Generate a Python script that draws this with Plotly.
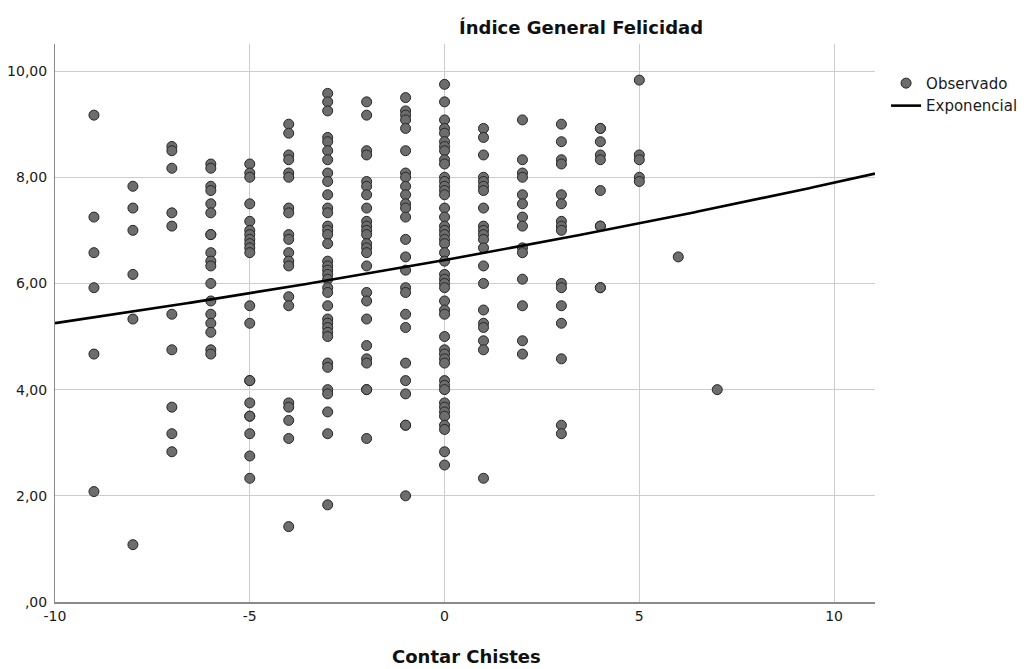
import numpy as np
import plotly.graph_objects as go

# Observed "Índice General Felicidad" values grouped by "Contar Chistes" score
chistes_levels = [-9, -8, -7, -6, -5, -4, -3, -2, -1, 0, 1, 2, 3, 4, 5, 6, 7]

felicidad_m9 = [9.17, 7.25, 6.58, 5.92, 4.67, 2.08]
felicidad_m8 = [7.83, 7.42, 7.00, 6.17, 5.33, 1.08]
felicidad_m7 = [8.58, 8.50, 8.17, 7.33, 7.08, 5.42, 4.75, 3.67, 3.17, 2.83]
felicidad_m6 = [8.25, 8.17, 7.83, 7.75, 7.50, 7.33, 6.92, 6.92, 6.58, 6.42, 6.33,
                6.00, 5.67, 5.42, 5.25, 5.08, 4.75, 4.67]
felicidad_m5 = [8.25, 8.08, 8.00, 7.50, 7.17, 7.00, 6.92, 6.83, 6.75, 6.67, 6.58,
                5.58, 5.25, 4.17, 4.17, 3.75, 3.50, 3.50, 3.17, 2.75, 2.33]
felicidad_m4 = [9.00, 8.83, 8.42, 8.33, 8.08, 8.00, 7.42, 7.33, 6.92, 6.83, 6.58,
                6.42, 6.33, 5.75, 5.58, 3.75, 3.67, 3.42, 3.08, 1.42]
felicidad_m3 = [9.58, 9.42, 9.25, 8.75, 8.67, 8.50, 8.33, 8.08, 7.92, 7.67, 7.42,
                7.33, 7.08, 7.00, 6.92, 6.75, 6.42, 6.33, 6.25, 6.17, 6.08, 5.92,
                5.83, 5.58, 5.33, 5.25, 5.17, 5.08, 5.00, 4.50, 4.42, 4.00, 3.92,
                3.58, 3.17, 1.83]
felicidad_m2 = [9.42, 9.17, 8.50, 8.42, 7.92, 7.83, 7.67, 7.42, 7.17, 7.08, 7.00,
                6.92, 6.75, 6.67, 6.58, 6.33, 5.83, 5.67, 5.33, 4.83, 4.58, 4.50,
                4.00, 4.00, 3.08]
felicidad_m1 = [9.50, 9.25, 9.17, 9.08, 8.92, 8.50, 8.08, 8.00, 7.83, 7.67, 7.50,
                7.42, 7.25, 6.83, 6.50, 6.25, 5.92, 5.83, 5.42, 5.17, 4.50, 4.17,
                3.92, 3.33, 3.33, 2.00]
felicidad_0 = [9.75, 9.42, 9.08, 8.92, 8.83, 8.67, 8.58, 8.50, 8.33, 8.25, 8.00,
               7.92, 7.83, 7.75, 7.67, 7.42, 7.25, 7.08, 7.00, 6.92, 6.83, 6.75,
               6.58, 6.42, 6.17, 6.08, 6.00, 5.92, 5.67, 5.50, 5.42, 5.00, 4.75,
               4.67, 4.58, 4.50, 4.17, 4.08, 4.00, 3.75, 3.67, 3.58, 3.50, 3.33,
               3.25, 2.83, 2.58]
felicidad_p1 = [8.92, 8.75, 8.42, 8.00, 7.92, 7.83, 7.75, 7.42, 7.08, 7.00, 6.92,
                6.83, 6.67, 6.33, 6.00, 5.50, 5.25, 5.17, 4.92, 4.75, 2.33]
felicidad_p2 = [9.08, 8.33, 8.08, 8.00, 7.67, 7.50, 7.25, 7.08, 6.67, 6.58, 6.08,
                5.58, 4.92, 4.67]
felicidad_p3 = [9.00, 8.67, 8.33, 8.25, 7.67, 7.50, 7.17, 7.08, 7.00, 6.00, 5.92,
                5.58, 5.25, 4.58, 3.33, 3.17]
felicidad_p4 = [8.92, 8.92, 8.67, 8.42, 8.33, 7.75, 7.08, 7.08, 5.92, 5.92]
felicidad_p5 = [9.83, 8.42, 8.33, 8.00, 7.92]
felicidad_p6 = [6.50]
felicidad_p7 = [4.00]

felicidad_groups = [felicidad_m9, felicidad_m8, felicidad_m7, felicidad_m6,
                    felicidad_m5, felicidad_m4, felicidad_m3, felicidad_m2,
                    felicidad_m1, felicidad_0, felicidad_p1, felicidad_p2,
                    felicidad_p3, felicidad_p4, felicidad_p5, felicidad_p6,
                    felicidad_p7]

# Exponential model  y = b0 * exp(b1 * x)
fit_b0 = 6.44
fit_b1 = 0.0204

# Axis ticks
x_ticks = [-10, -5, 0, 5, 10]
y_ticks = [0, 2, 4, 6, 8, 10]
y_ticktext = [",00", "2,00", "4,00", "6,00", "8,00", "10,00"]

X_RANGE = [-10, 11.05]
Y_RANGE = [0, 10.51]

obs_x = [lvl for lvl, grp in zip(chistes_levels, felicidad_groups) for _ in grp]
obs_y = [v for grp in felicidad_groups for v in grp]

fit_x = np.linspace(X_RANGE[0], X_RANGE[1], 200)
fit_y = fit_b0 * np.exp(fit_b1 * fit_x)

FONT = "DejaVu Sans"

fig = go.Figure()
fig.add_trace(go.Scatter(
    x=obs_x, y=obs_y, mode="markers", name="Observado",
    marker=dict(size=10, color="#6d6d6d", line=dict(color="#262626", width=1)),
))
fig.add_trace(go.Scatter(
    x=fit_x, y=fit_y, mode="lines", name="Exponencial",
    line=dict(color="black", width=2.6),
))

fig.update_layout(
    width=1028, height=669,
    margin=dict(l=55, r=153, t=44, b=67, autoexpand=False),
    paper_bgcolor="white", plot_bgcolor="white",
    font=dict(family=FONT, size=13, color="#1a1a1a"),
    showlegend=True,
    legend=dict(
        x=1.0135, y=0.959, xanchor="left", yanchor="top",
        font=dict(family=FONT, size=15, color="#1a1a1a"),
        bgcolor="rgba(0,0,0,0)", borderwidth=0,
        tracegroupgap=0, itemwidth=30,
    ),
    xaxis=dict(
        range=X_RANGE, tickvals=x_ticks, ticktext=[str(t) for t in x_ticks],
        showgrid=True, gridcolor="#cccccc", gridwidth=1,
        zeroline=False, showline=True, linecolor="#8a8a8a", linewidth=2,
        ticks="", automargin=False,
        tickfont=dict(family=FONT, size=14, color="#1a1a1a"),
    ),
    yaxis=dict(
        range=Y_RANGE, tickvals=y_ticks, ticktext=y_ticktext,
        showgrid=True, gridcolor="#cccccc", gridwidth=1,
        zeroline=False, showline=True, linecolor="#8a8a8a", linewidth=1,
        ticks="", ticklabelstandoff=4, automargin=False,
        tickfont=dict(family=FONT, size=14, color="#1a1a1a"),
    ),
    annotations=[
        dict(text="<b>Índice General Felicidad</b>", xref="paper", yref="paper",
             x=(581 - 55) / 820, y=1 + (44 - 27) / 558, xanchor="center",
             yanchor="middle", showarrow=False,
             font=dict(family=FONT, size=18, color="#111111")),
        dict(text="<b>Contar Chistes</b>", xref="paper", yref="paper",
             x=(466 - 55) / 820, y=-(656 - 602) / 558, xanchor="center",
             yanchor="middle", showarrow=False,
             font=dict(family=FONT, size=18, color="#111111")),
    ],
)

fig.write_html("out.html")
